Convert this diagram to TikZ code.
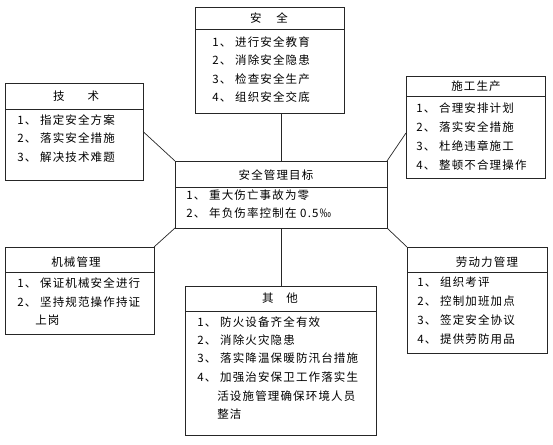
\documentclass[tikz,border=0pt]{standalone}
\usepackage{fontspec}
\usepackage{tikz}
\newfontfamily\cjk[LetterSpace=10]{Noto Sans CJK SC}

\begin{document}
\begin{tikzpicture}[x=1pt,y=-1pt,line width=0.7pt,
          every node/.style={font=\cjk\fontsize{11.5}{14}\selectfont,inner sep=0pt},
          box/.style={draw=black!85,anchor=north west,outer sep=0pt},
          head/.style={anchor=center},
          item/.style={anchor=west}]
        \useasboundingbox (0,0) rectangle (553,444);
        % boxes
        \node[box,minimum width=149pt,minimum height=106pt] (safety)  at (195,7)   {};
        \node[box,minimum width=138pt,minimum height=97pt]  (tech)    at (5,83)    {};
        \node[box,minimum width=139pt,minimum height=102pt] (work)    at (406,76)  {};
        \node[box,minimum width=212pt,minimum height=67pt]  (goal)    at (175,161) {};
        \node[box,minimum width=149pt,minimum height=87pt]  (machine) at (5,247)   {};
        \node[box,minimum width=140pt,minimum height=106pt] (labor)   at (407,247) {};
        \node[box,minimum width=191pt,minimum height=149pt] (other)   at (185,286) {};
        % title lines
        \draw[black!85] (safety.west |- 0,29)   -- (safety.east |- 0,29);
        \draw[black!85] (tech.west |- 0,109)    -- (tech.east |- 0,109);
        \draw[black!85] (work.west |- 0,96)     -- (work.east |- 0,96);
        \draw[black!85] (goal.west |- 0,187)    -- (goal.east |- 0,187);
        \draw[black!85] (machine.west |- 0,272) -- (machine.east |- 0,272);
        \draw[black!85] (labor.west |- 0,272)   -- (labor.east |- 0,272);
        \draw[black!85] (other.west |- 0,311)   -- (other.east |- 0,311);
        % safety
        \node[head] (safetyT) at (269,18) {安\hspace{1.3em}全};
        \node[item] (s1) at (212,42) {1、 进行安全教育};
        \node[item] (s2) at (212,60) {2、 消除安全隐患};
        \node[item] (s3) at (212,79) {3、 检查安全生产};
        \node[item] (s4) at (212,97) {4、 组织安全交底};
        % tech
        \node[head] (techT) at (76,96) {技\hspace{2em}术};
        \node[item] (t1) at (17,120) {1、 指定安全方案};
        \node[item] (t2) at (17,138) {2、 落实安全措施};
        \node[item] (t3) at (17,157) {3、 解决技术难题};
        % work
        \node[head] (workT) at (476,86) {施工生产};
        \node[item] (w1) at (416,108) {1、 合理安排计划};
        \node[item] (w2) at (416,127) {2、 落实安全措施};
        \node[item] (w3) at (416,146) {3、 杜绝违章施工};
        \node[item] (w4) at (416,165) {4、 整顿不合理操作};
        % goal
        \node[head] (goalT) at (276,175) {安全管理目标};
        \node[item] (g1) at (186,195) {1、 重大伤亡事故为零};
        \node[item] (g2) at (186,213) {2、 年负伤率控制在 0.5‰};
        % machine
        \node[head] (machineT) at (76,262) {机械管理};
        \node[item] (m1) at (17,283) {1、 保证机械安全进行};
        \node[item] (m2) at (17,302) {2、 坚持规范操作持证};
        \node[item] (m3) at (35,320) {上岗};
        % labor
        \node[head] (laborT) at (487,262) {劳动力管理};
        \node[item] (l1) at (417,282) {1、 组织考评};
        \node[item] (l2) at (417,301) {2、 控制加班加点};
        \node[item] (l3) at (417,320) {3、 签定安全协议};
        \node[item] (l4) at (417,339) {4、 提供劳防用品};
        % other
        \node[head] (otherT) at (280,298) {其\hspace{1.1em}他};
        \node[item] (o1) at (197,322) {1、 防火设备齐全有效};
        \node[item] (o2) at (197,340) {2、 消除火灾隐患};
        \node[item] (o3) at (197,358) {3、 落实降温保暖防汛台措施};
        \node[item] (o4) at (197,377) {4、 加强治安保卫工作落实生};
        \node[item] (o5) at (217,396) {活设施管理确保环境人员};
        \node[item] (o6) at (217,414) {整洁};
        % links
        \draw[black!85] (goal.north) -- (goal.north |- safety.south);
        \draw[black!85] (goal.south) -- (goal.south |- other.north);
        \draw[black!85] (goal.north west) -- (tech.east);
        \draw[black!85] (goal.north east) -- ([yshift=-6pt]work.west);
        \draw[black!85] (goal.south west) -- (machine.north east);
        \draw[black!85] (goal.south east) -- (labor.north west);
      \end{tikzpicture}
\end{document}
